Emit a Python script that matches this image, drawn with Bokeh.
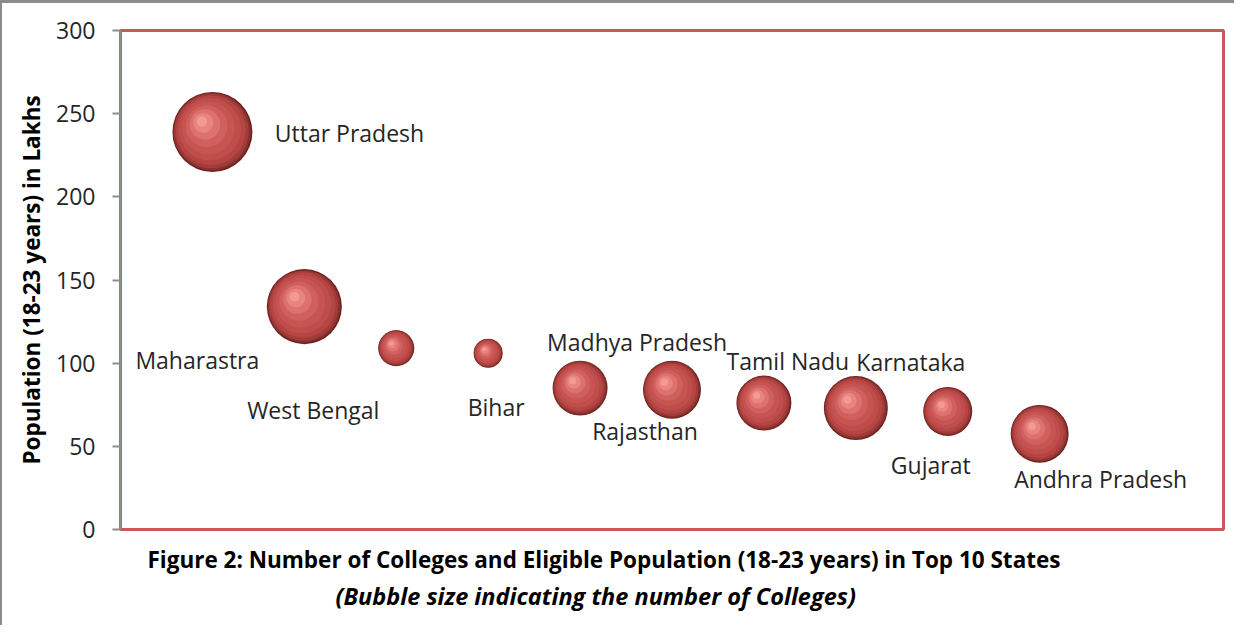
from bokeh.plotting import figure
from bokeh.models import ColumnDataSource, Range1d, Title, FixedTicker
from bokeh.core.properties import value
from bokeh.embed import file_html
from bokeh.resources import INLINE
import numpy as np

# ---- data ----
states = ["Uttar Pradesh", "Maharastra", "West Bengal", "Bihar", "Madhya Pradesh",
          "Rajasthan", "Tamil Nadu", "Karnataka", "Gujarat", "Andhra Pradesh"]
population_lakhs = [239, 134, 109, 106, 85, 84, 76, 73, 71, 57.5]
colleges = [4320, 3800, 875, 570, 2040, 2270, 2040, 2765, 1620, 2270]
y_ticks = [0, 50, 100, 150, 200, 250, 300]

# label placement (screen px offsets from bubble centre; layout only)
label_dx = [137, -107, -83, 8, 57, -27, 24, 55, -17, 61]
label_dy = [1, 53, 62, 54, -46, 41, -42, -46, 54, 45]

X_MAX, Y_MAX = 12, 300
FRAME_W, FRAME_H = 1103, 496  # frame size in px (layout)

xpos = list(range(1, len(states) + 1))
diam = [80.0 * np.sqrt(c / max(colleges)) for c in colleges]

FONT = "Open Sans"

p = figure(width=1234, height=625, output_backend="svg", toolbar_location=None,
           x_range=Range1d(0, X_MAX), y_range=Range1d(0, Y_MAX),
           min_border_left=118, min_border_right=13, min_border_top=27,
           min_border_bottom=99)
p.styles = {"border-left": "2px solid #8c8c8c", "border-top": "3px solid #8c8c8c"}

p.xgrid.visible = False
p.ygrid.visible = False
p.xaxis.visible = False
p.outline_line_color = "#c85a58"
p.outline_line_width = 3
p.background_fill_color = "white"
p.border_fill_color = "white"

ax = p.yaxis[0]
ax.ticker = FixedTicker(ticks=y_ticks)
ax.axis_line_color = "#8c8c8c"
ax.axis_line_width = 2
ax.major_tick_line_color = "#8c8c8c"
ax.major_tick_line_width = 2
ax.major_tick_out = 8
ax.major_tick_in = 0
ax.minor_tick_line_color = None
ax.major_label_standoff = 17
ax.major_label_text_font = FONT
ax.major_label_text_font_size = "23px"
ax.major_label_text_color = "#262626"
ax.axis_label = "Population (18-23 years) in Lakhs"
ax.axis_label_text_font = FONT
ax.axis_label_text_font_style = "bold"
ax.axis_label_text_font_size = "22.5px"
ax.axis_label_text_color = "black"
ax.axis_label_standoff = 6

src = ColumnDataSource(dict(x=xpos, y=population_lakhs, name=states,
                            d=diam, dx=label_dx, dy=label_dy))

# sphere-like bubbles: shading layers shifted toward the upper-left highlight
px_x = FRAME_W / X_MAX
px_y = FRAME_H / Y_MAX
layers = [(1.00, "#6a2220"), (0.97, "#8a302e"), (0.93, "#a23c3a"), (0.87, "#b44543"),
          (0.78, "#bf4d4b"), (0.66, "#c65552"), (0.52, "#d0605d"), (0.38, "#dc716e"),
          (0.25, "#e8857f"), (0.13, "#f39a94")]
for frac, col in layers:
    shift = [(1 - frac) * 0.30 * d / 2 for d in diam]
    s = ColumnDataSource(dict(
        x=[x - sh / px_x for x, sh in zip(xpos, shift)],
        y=[y + sh / px_y for y, sh in zip(population_lakhs, shift)],
        size=[frac * d for d in diam]))
    p.scatter("x", "y", size="size", source=s, fill_color=col, line_color=None)

p.text("x", "y", text="name", source=src, x_offset="dx", y_offset="dy",
       text_align="center", text_baseline="middle", text_font=value(FONT),
       text_font_size="23px", text_color="#262626")

cap1 = Title(text="Figure 2: Number of Colleges and Eligible Population (18-23 years) in Top 10 States",
             align="left", offset=27, standoff=25, text_font=FONT,
             text_font_style="bold", text_font_size="22.5px", text_color="black")
cap2 = Title(text="(Bubble size indicating the number of Colleges)",
             align="left", offset=215, standoff=-19, text_font=FONT,
             text_font_style="bold italic", text_font_size="23.5px", text_color="black")
p.add_layout(cap1, "below")
p.add_layout(cap2, "below")

open("out.html", "w").write(file_html(p, INLINE))
